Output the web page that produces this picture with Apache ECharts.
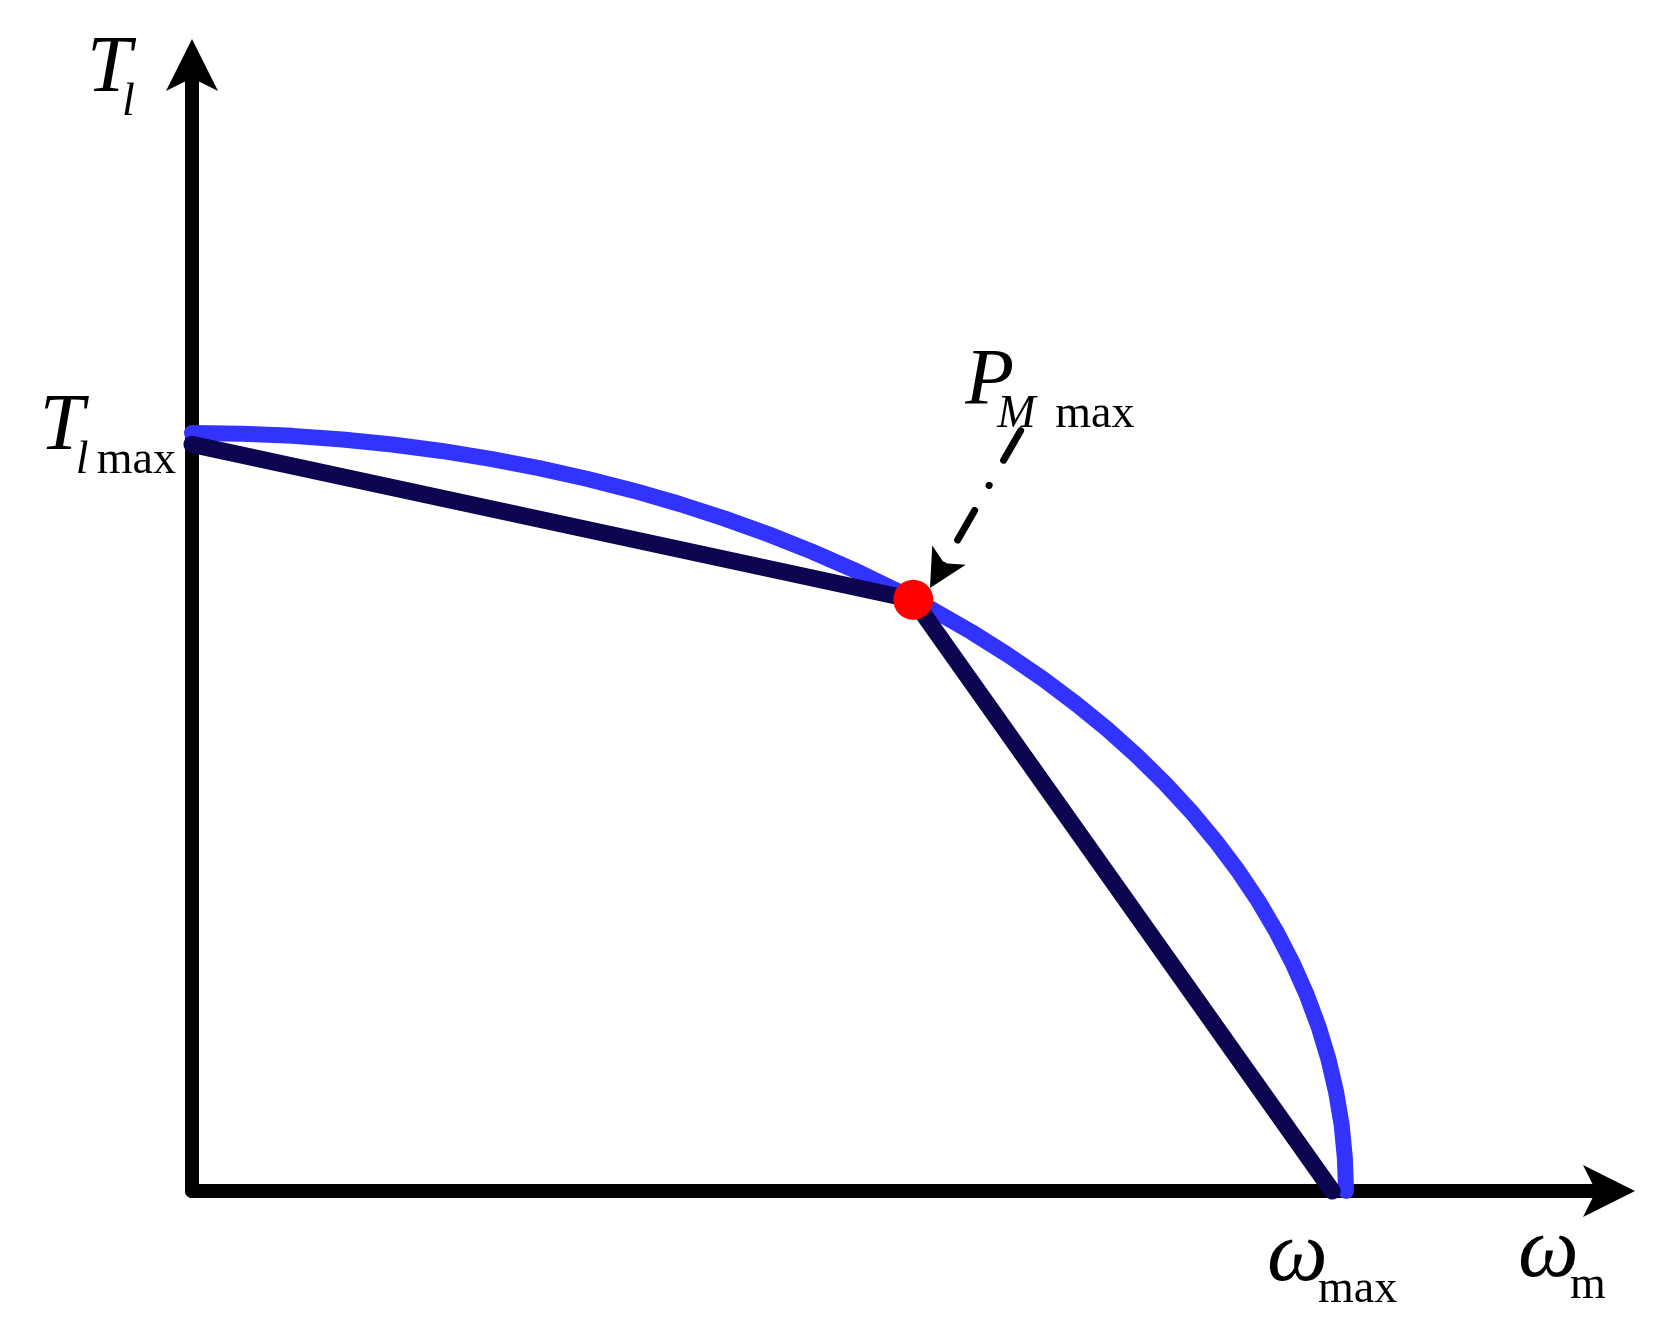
<!DOCTYPE html>
<html>
<head>
<meta charset="utf-8">
<style>
  html, body { margin: 0; padding: 0; background: #fff; }
  #chart { width: 1662px; height: 1342px; }
</style>
<script src="https://cdn.jsdelivr.net/npm/echarts@6/dist/echarts.min.js"></script>
</head>
<body>
<div id="chart"></div>
<script>
// values: speed in units of omega_max, torque in units of T_l max
var curveX = [0, 0.0436, 0.0872, 0.1305, 0.1736, 0.2164, 0.2588, 0.3007, 0.342, 0.3827, 0.4226, 0.4617, 0.5, 0.5373, 0.5736, 0.6088, 0.6428, 0.6756, 0.7071, 0.7373, 0.766, 0.7934, 0.8192, 0.8434, 0.866, 0.887, 0.9063, 0.9239, 0.9397, 0.9537, 0.9659, 0.9763, 0.9848, 0.9914, 0.9962, 0.999, 1.0];
var curveY = [1.0, 0.999, 0.9962, 0.9914, 0.9848, 0.9763, 0.9659, 0.9537, 0.9397, 0.9239, 0.9063, 0.887, 0.866, 0.8434, 0.8192, 0.7934, 0.766, 0.7373, 0.7071, 0.6756, 0.6428, 0.6088, 0.5736, 0.5373, 0.5, 0.4617, 0.4226, 0.3827, 0.342, 0.3007, 0.2588, 0.2164, 0.1736, 0.1305, 0.0872, 0.0436, 0];
var lineX = [0, 0.625, 0.988];
var lineY = [0.985, 0.78, 0];
var peakX = 0.625;
var peakY = 0.78;
var arrowFrom = [0.718, 1.003];
var arrowTo = [0.6395, 0.7955];

var xTickValues = [1];
var xTickLabels = [['ω', 'max']];
var yTickValues = [1];
var yTickLabels = [['T', 'l', 'max']];
var xName = ['ω', 'm'];
var yName = ['T', 'l'];
var peakName = ['P', 'M', 'max'];

var FONT = '"Liberation Serif", "Times New Roman", serif';

function zip(xs, ys) {
  return xs.map(function (x, i) { return [x, ys[i]]; });
}

// big italic symbol followed by a lowered subscript
function big(size, width) {
  return { fontFamily: FONT, fontSize: size, fontStyle: 'italic', lineHeight: size, verticalAlign: 'top', width: width, align: 'left', color: '#000' };
}
function sub(italic, lh, width) {
  var s = { fontFamily: FONT, fontSize: 46, fontStyle: italic ? 'italic' : 'normal', lineHeight: lh, align: 'left', color: '#000' };
  if (width) s.width = width;
  return s;
}

var chart = echarts.init(document.getElementById('chart'));

var axisLine = {
  show: true,
  onZero: false,
  symbol: ['none', 'arrow'],
  symbolSize: [39, 52],
  symbolOffset: [0, 18],
  lineStyle: { color: '#000', width: 14, cap: 'round' }
};

var option = {
  animation: false,
  backgroundColor: '#fff',
  textStyle: { fontFamily: FONT, color: '#000' },
  grid: { left: 192, right: 45, top: 57, bottom: 151, outerBoundsMode: 'none' },
  xAxis: {
    type: 'value',
    min: 0,
    max: 1.2348,
    splitLine: { show: false },
    axisTick: { show: false },
    axisLine: axisLine,
    axisLabel: {
      show: true,
      customValues: xTickValues,
      margin: 23,
      padding: [0, 28, 0, 0],
      formatter: function (v) {
        var t = xTickLabels[xTickValues.indexOf(v)];
        return t ? '{w|' + t[0] + '}{s|' + t[1] + '}' : '';
      },
      rich: { w: big(86, 51), s: sub(false, 151) }
    },
    name: '{w|' + xName[0] + '}{s|' + xName[1] + '}',
    nameLocation: 'end',
    nameGap: -99,
    nameTextStyle: {
      align: 'left',
      verticalAlign: 'top',
      padding: [19, 0, 0, 0],
      rich: { w: big(86, 52), s: sub(false, 151) }
    }
  },
  yAxis: {
    type: 'value',
    min: 0,
    max: 1.496,
    splitLine: { show: false },
    axisTick: { show: false },
    axisLine: axisLine,
    axisLabel: {
      show: true,
      customValues: yTickValues,
      margin: 16,
      padding: [55, 0, 0, 0],
      formatter: function (v) {
        var t = yTickLabels[yTickValues.indexOf(v)];
        return t ? '{t|' + t[0] + '}{i|' + t[1] + '}{s|' + t[2] + '}' : '';
      },
      rich: { t: big(80, 36), i: sub(true, 145, 21), s: sub(false, 145) }
    },
    name: '{t|' + yName[0] + '}{i|' + yName[1] + '}',
    nameLocation: 'end',
    nameGap: 27,
    nameTextStyle: {
      align: 'right',
      verticalAlign: 'top',
      padding: [0, 57, 0, 0],
      rich: { t: big(80, 35), i: sub(true, 145, 13) }
    }
  },
  series: [
    {
      // torque limit curve
      type: 'line',
      data: zip(curveX, curveY),
      smooth: false,
      showSymbol: false,
      clip: false,
      silent: true,
      z: 2,
      lineStyle: { color: '#3333ff', width: 16, cap: 'round', join: 'round' }
    },
    {
      // two-segment approximation
      type: 'line',
      data: zip(lineX, lineY),
      showSymbol: false,
      clip: false,
      silent: true,
      z: 3,
      lineStyle: { color: '#0c0550', width: 17, cap: 'round', join: 'round' }
    },
    {
      type: 'scatter',
      data: [[peakX, peakY]],
      symbolSize: 40,
      silent: true,
      clip: false,
      z: 5,
      itemStyle: { color: '#ff0000', opacity: 1 },
      label: {
        show: true,
        position: [72, -237],
        align: 'left',
        verticalAlign: 'top',
        color: '#000',
        textBorderWidth: 0,
        formatter: '{p|' + peakName[0] + '}{m|' + peakName[1] + '}{s|' + peakName[2] + '}',
        rich: { p: big(80, 32), m: sub(true, 145, 58), s: sub(false, 145) }
      },
      markLine: {
        silent: true,
        symbol: ['none', 'arrow'],
        symbolSize: [29, 38],
        label: { show: false },
        lineStyle: { color: '#000', width: 7, type: [34, 29, 0.1, 29], cap: 'round', opacity: 1 },
        data: [[{ coord: arrowFrom }, { coord: arrowTo }]]
      }
    }
  ]
};

chart.setOption(option);
</script>
</body>
</html>
